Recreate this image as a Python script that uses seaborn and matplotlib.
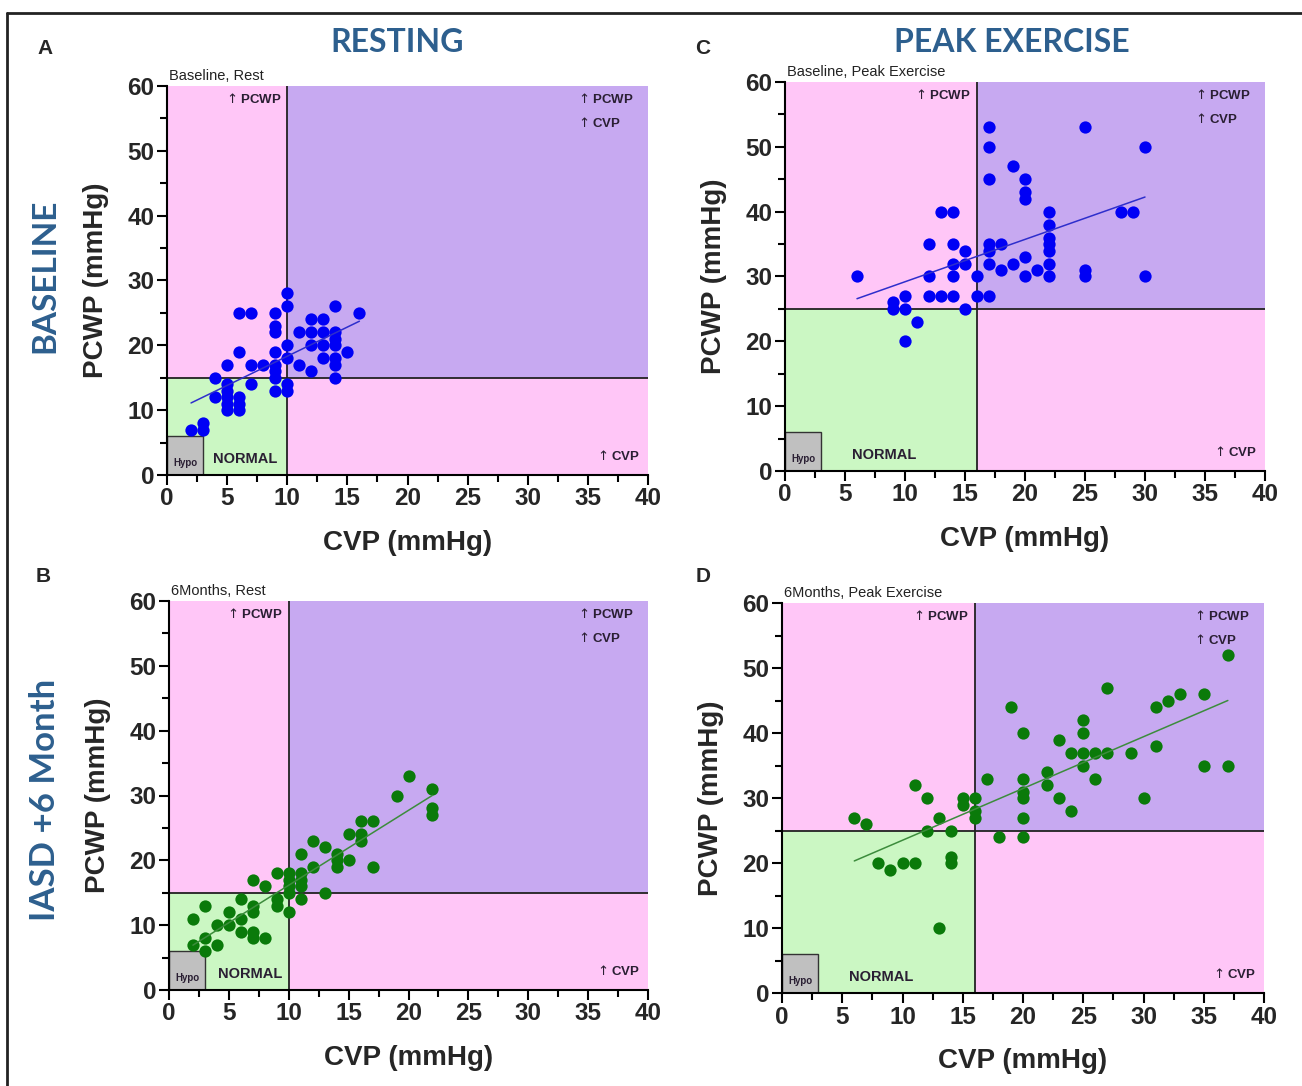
import matplotlib
matplotlib.use("Agg")
import matplotlib.pyplot as plt
from matplotlib.patches import Rectangle
from matplotlib.lines import Line2D
from matplotlib.ticker import MultipleLocator
import seaborn as sns

# --- Data ---
base_rest_cvp = [10, 10, 6, 7, 9, 9, 9, 14, 16, 12, 13, 11, 12, 13, 14, 12, 13, 14, 14, 15,
                 13, 14, 14, 12, 14, 11, 10, 10, 9, 9, 9, 9, 9, 10, 10, 8, 7, 6, 5, 4,
                 7, 5, 5, 5, 5, 5, 6, 6, 6, 4, 2, 3, 3]
base_rest_pcwp = [28, 26, 25, 25, 25, 23, 22, 26, 25, 24, 24, 22, 22, 22, 22, 20, 20, 20, 21, 19,
                  18, 18, 17, 16, 15, 17, 20, 18, 19, 17, 16, 15, 13, 14, 13, 17, 17, 19, 17, 15,
                  14, 14, 13, 12, 11, 10, 12, 11, 10, 12, 7, 8, 7]

base_peak_cvp = [17, 17, 17, 25, 30, 19, 20, 20, 20, 13, 14, 22, 28, 29, 22, 22, 22, 22, 22, 22,
                 25, 25, 30, 12, 14, 15, 17, 18, 17, 17, 20, 19, 18, 21, 20, 14, 15, 12, 14, 16,
                 6, 10, 12, 13, 14, 16, 17, 9, 9, 10, 15, 11, 10]
base_peak_pcwp = [53, 50, 45, 53, 50, 47, 45, 43, 42, 40, 40, 40, 40, 40, 38, 36, 35, 34, 32, 30,
                  31, 30, 30, 35, 35, 34, 35, 35, 34, 32, 33, 32, 31, 31, 30, 32, 32, 30, 30, 30,
                  30, 27, 27, 27, 27, 27, 27, 26, 25, 25, 25, 23, 20]

m6_rest_cvp = [20, 22, 19, 22, 22, 16, 17, 15, 16, 16, 17, 12, 13, 11, 14, 14, 14, 15, 12, 9,
               10, 11, 10, 11, 10, 11, 10, 11, 13, 7, 8, 9, 9, 10, 6, 7, 7, 3, 5, 6,
               2, 4, 5, 6, 7, 7, 8, 3, 2, 4, 3]
m6_rest_pcwp = [33, 31, 30, 28, 27, 26, 26, 24, 24, 23, 19, 23, 22, 21, 21, 20, 19, 20, 19, 18,
                18, 18, 17, 17, 16, 16, 15, 14, 15, 17, 16, 14, 13, 12, 14, 13, 12, 13, 12, 11,
                11, 10, 10, 9, 9, 8, 8, 8, 7, 7, 6]

m6_peak_cvp = [37, 27, 33, 35, 32, 31, 19, 25, 25, 20, 23, 24, 25, 26, 27, 29, 31, 25, 35, 37,
               26, 22, 22, 23, 24, 30, 17, 20, 20, 20, 20, 20, 18, 11, 12, 15, 15, 16, 16, 16,
               13, 6, 7, 12, 14, 14, 14, 8, 10, 11, 9, 13]
m6_peak_pcwp = [52, 47, 46, 46, 45, 44, 44, 42, 40, 40, 39, 37, 37, 37, 37, 37, 38, 35, 35, 35,
                33, 34, 32, 30, 28, 30, 33, 33, 31, 30, 27, 24, 24, 32, 30, 30, 29, 30, 28, 27,
                27, 27, 26, 25, 25, 21, 20, 20, 20, 20, 19, 10]

subtitles = ["Baseline, Rest", "Baseline, Peak Exercise", "6Months, Rest", "6Months, Peak Exercise"]
cvp_cut = [10, 16, 10, 16]
pcwp_cut = [15, 25, 15, 25]
normal_x = [6.5, 8.3, 6.8, 8.2]

# --- Style ---
sns.set_theme(style="white")
plt.rcParams['font.family'] = ['Liberation Sans', 'DejaVu Sans']
plt.rcParams['mathtext.fontset'] = 'dejavusans'

PINK = '#FFC6F7'
PURPLE = '#C7A9F1'
GREEN = '#CBF7C3'
GRAY = '#C0C0C0'
TITLE_BLUE = '#2D5F8E'
TXT = '#2A1F33'
UP = r'$\uparrow$'

W, H = 1302, 1086
fig = plt.figure(figsize=(W / 100, H / 100), dpi=100)

# axes boxes in pixels: left, top, right, bottom
boxes = [(167, 86, 648, 475), (785, 82, 1265, 471), (169, 601, 648, 990), (782, 603, 1264, 993)]
datasets = [(base_rest_cvp, base_rest_pcwp, 'blue'), (base_peak_cvp, base_peak_pcwp, 'blue'),
            (m6_rest_cvp, m6_rest_pcwp, 'green'), (m6_peak_cvp, m6_peak_pcwp, 'green')]

for i, (l, t, r, b) in enumerate(boxes):
    ax = fig.add_axes([l / W, 1 - b / H, (r - l) / W, (b - t) / H])
    xc, yc = cvp_cut[i], pcwp_cut[i]

    # quadrant backgrounds
    ax.add_patch(Rectangle((0, 0), xc, yc, facecolor=GREEN, edgecolor='none', zorder=0))
    ax.add_patch(Rectangle((0, yc), xc, 60 - yc, facecolor=PINK, edgecolor='none', zorder=0))
    ax.add_patch(Rectangle((xc, 0), 40 - xc, yc, facecolor=PINK, edgecolor='none', zorder=0))
    ax.add_patch(Rectangle((xc, yc), 40 - xc, 60 - yc, facecolor=PURPLE, edgecolor='none', zorder=0))
    ax.add_patch(Rectangle((0, 0), 3, 6, facecolor=GRAY, edgecolor='#333333', lw=1, zorder=1))
    ax.plot([xc, xc], [0, 60], color='#222222', lw=1.3, zorder=1)
    ax.plot([0, 40], [yc, yc], color='#222222', lw=1.3, zorder=1)

    x, y, c = datasets[i]
    if c == 'blue':
        pt_col, ln_col = '#0000F5', '#2E2ECC'
    else:
        pt_col, ln_col = '#0A7A0A', '#3C8C3C'
    sns.scatterplot(x=x, y=y, ax=ax, color=pt_col, s=78, linewidth=0, zorder=3)
    sns.regplot(x=x, y=y, ax=ax, scatter=False, ci=None, color=ln_col,
                line_kws={'lw': 1.1, 'zorder': 4})

    # quadrant labels
    qk = dict(va='center', fontsize=9.5, fontweight='bold', color=TXT)
    ax.text(xc - 0.5, 58, UP + 'PCWP', ha='right', **qk)
    ax.text(34.0, 58, UP + 'PCWP', ha='left', **qk)
    ax.text(34.0, 54.3, UP + 'CVP', ha='left', **qk)
    ax.text(39.3, 2.9, UP + 'CVP', ha='right', **qk)
    ax.text(normal_x[i], 2.4, 'NORMAL', ha='center', va='center', fontsize=10.5, fontweight='bold', color=TXT)
    ax.text(1.5, 1.8, 'Hypo', ha='center', va='center', fontsize=7, fontweight='bold', color=TXT)
    ax.text(0.005, 1.008, subtitles[i], transform=ax.transAxes, ha='left', va='bottom',
            fontsize=10.5, color='#222222')

    ax.set_xlim(0, 40)
    ax.set_ylim(0, 60)
    ax.xaxis.set_major_locator(MultipleLocator(5))
    ax.xaxis.set_minor_locator(MultipleLocator(2.5))
    ax.yaxis.set_major_locator(MultipleLocator(10))
    ax.yaxis.set_minor_locator(MultipleLocator(5))
    ax.tick_params(which='both', direction='out', color='black', width=1.5,
                   bottom=True, left=True, labelsize=17.5, pad=2)
    ax.tick_params(which='major', length=7)
    ax.tick_params(which='minor', length=5)
    for lab in ax.get_xticklabels() + ax.get_yticklabels():
        lab.set_fontweight('bold')
    for side in ['top', 'right']:
        ax.spines[side].set_visible(False)
    for side in ['left', 'bottom']:
        ax.spines[side].set_color('black')
        ax.spines[side].set_linewidth(1.5)
    ax.set_xlabel('CVP (mmHg)', fontsize=20, fontweight='bold', labelpad=14)
    ax.set_ylabel('PCWP (mmHg)', fontsize=20, fontweight='bold', labelpad=13)

# panel letters and titles
for letter, (px, py) in zip('ABCD', [(45, 48), (43, 577), (703, 48), (703, 577)]):
    fig.text(px / W, 1 - py / H, letter, ha='center', va='center', fontsize=15, fontweight='bold')

fig.text(397 / W, 1 - 43 / H, 'RESTING', ha='center', va='center', fontsize=23,
         fontweight='bold', color=TITLE_BLUE, family='Lato')
fig.text(1012 / W, 1 - 43 / H, 'PEAK EXERCISE', ha='center', va='center', fontsize=23,
         fontweight='bold', color=TITLE_BLUE, family='Lato')
fig.text(45 / W, 1 - 276 / H, 'BASELINE', ha='center', va='center', rotation=90, fontsize=24,
         fontweight='bold', color=TITLE_BLUE, family='Lato')
fig.text(45 / W, 1 - 800 / H, 'IASD +6 Month', ha='center', va='center', rotation=90, fontsize=25,
         fontweight='bold', color=TITLE_BLUE, family='Lato')

# outer frame (top and left visible in the crop)
fig.add_artist(Line2D([7 / W, 7 / W], [0, 1 - 13 / H], transform=fig.transFigure, color='#222222', lw=2))
fig.add_artist(Line2D([7 / W, 1], [1 - 13 / H, 1 - 13 / H], transform=fig.transFigure, color='#222222', lw=2))

plt.savefig('out.png', dpi=100)
plt.close()
